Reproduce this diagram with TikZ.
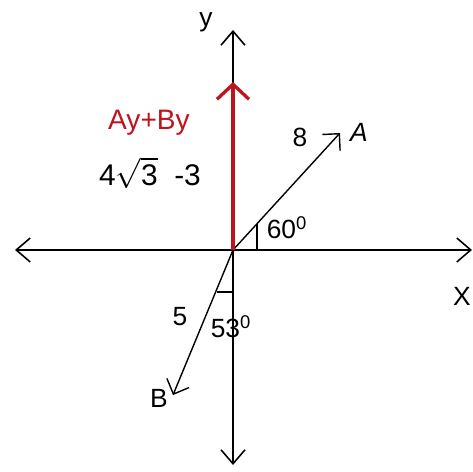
\documentclass[tikz,border=0pt]{standalone}
\usepackage{amsmath}
\usepackage{fontspec}
\setmainfont{Liberation Sans}
\usetikzlibrary{arrows.meta}
\definecolor{vred}{RGB}{190,20,30}
\tikzset{axis/.style={line width=0.9pt,-{Straight Barb[length=2.8mm,width=4.8mm,line width=0.9pt]}},
  vec/.style={line width=0.8pt,-{Straight Barb[length=2.4mm,width=4.8mm,line width=0.8pt]}},
  lbl/.style={font=\fontsize{15}{18}\selectfont,inner sep=1pt}}
\begin{document}
\begin{tikzpicture}[x=0.02cm,y=0.02cm]
\useasboundingbox (-233,-222) rectangle (240,250);
\coordinate (O) at (0,0);
\coordinate (xl) at (-218,0);
\coordinate (xr) at (239,0);
\coordinate (yt) at (0,220);
\coordinate (yb) at (0,-215);
\coordinate (A) at (107,117);
\coordinate (B) at (-60,-145);
\coordinate (R) at (0,168);
% axes
\draw[axis] (O)--(xr);
\draw[axis] (O)--(xl);
\draw[axis] (O)--(yt);
\draw[axis] (O)--(yb);
\node[lbl] (ylab) at (-27,228) {y};
\node[lbl] (xlab) at (229,-46) {X};
% vectors
\draw[vec] (O)--(A);
\draw[vec] (O)--(B);
\draw[line width=1.9pt,vred,-{Straight Barb[length=3mm,width=6.4mm,line width=1.9pt]}] (O)--(R);
\node[lbl] (Alab) at (126,118) {\itshape A};
\node[lbl] (Blab) at (-74,-148) {B};
\node[lbl] (mA) at (67,113) {8};
\node[lbl] (mB) at (-53,-67) {5};
% angle marks
\draw[line width=0.8pt] (24,0)--(24,26);
\draw[line width=0.8pt] (0,-42)--(-16,-42);
\node[lbl] (angA) at (54,22) {60\textsuperscript{0}};
\node[lbl] (angB) at (-2,-77) {53\textsuperscript{0}};
% sum
\node[lbl,text=vred,font=\fontsize{16}{19}\selectfont] (sum) at (-84,127) {Ay+By};
\node[lbl,font=\fontsize{17}{20}\selectfont] (val) at (-83,77) {4$\sqrt{\text{3}}$\ \ -3};
\end{tikzpicture}
\end{document}
